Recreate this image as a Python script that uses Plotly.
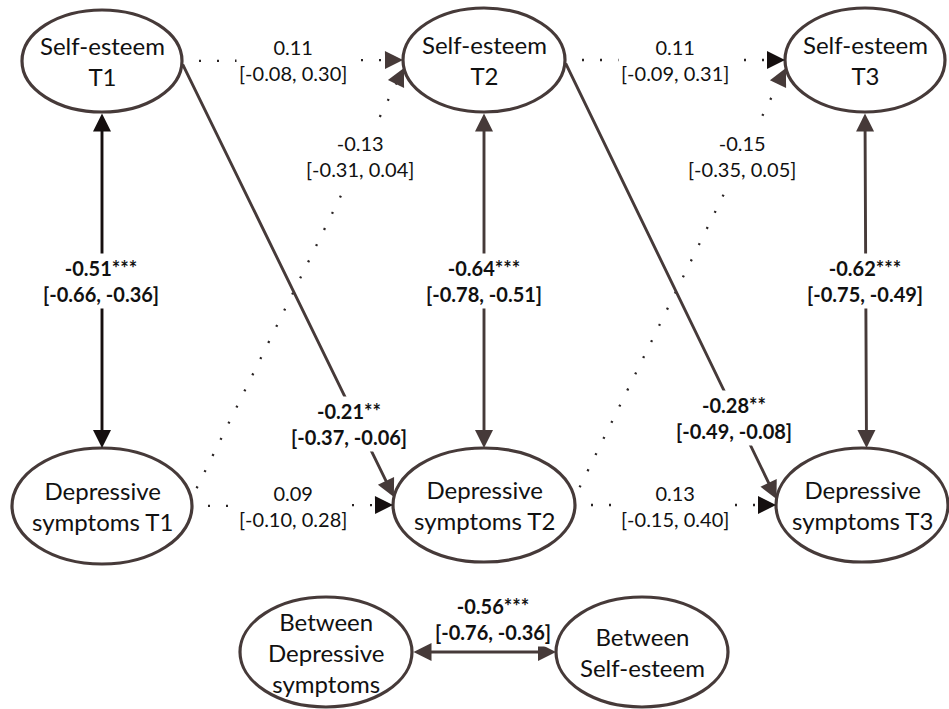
import math
import plotly.graph_objects as go

# ---- diagram content ----
node_ids = ["SE1", "SE2", "SE3", "DP1", "DP2", "DP3", "BD", "BS"]
node_labels = [
    "Self-esteem<br>T1", "Self-esteem<br>T2", "Self-esteem<br>T3",
    "Depressive<br>symptoms T1", "Depressive<br>symptoms T2", "Depressive<br>symptoms T3",
    "Between<br>Depressive<br>symptoms", "Between<br>Self-esteem",
]

# paths: standardized estimate, 95% CI, significance stars
edge_from = ["SE1", "SE2", "SE3", "SE1", "SE2", "SE1", "SE2", "DP1", "DP2", "DP1", "DP2", "BD"]
edge_to = ["DP1", "DP2", "DP3", "DP2", "DP3", "SE2", "SE3", "DP2", "DP3", "SE2", "SE3", "BS"]
estimate = [-0.51, -0.64, -0.62, -0.21, -0.28, 0.11, 0.11, 0.09, 0.13, -0.13, -0.15, -0.56]
ci_low = [-0.66, -0.78, -0.75, -0.37, -0.49, -0.08, -0.09, -0.10, -0.15, -0.31, -0.35, -0.76]
ci_high = [-0.36, -0.51, -0.49, -0.06, -0.08, 0.30, 0.31, 0.28, 0.40, 0.04, 0.05, -0.36]
stars = ["***", "***", "***", "**", "**", "", "", "", "", "", "", "***"]
edge_kind = ["both", "both", "both", "solid", "solid",
             "dot", "dot", "dot", "dot", "dot", "dot", "both"]

# ---- layout (page pixels, y pointing down) ----
NODE_GEOM = {  # cx, cy, rx, ry
    "SE1": (102, 61, 80, 51),
    "SE2": (484, 60, 81, 52),
    "SE3": (865, 60, 80, 52),
    "DP1": (102, 506, 90, 58),
    "DP2": (484, 505, 91, 57),
    "DP3": (862, 505, 86, 57),
    "BD": (326, 652, 86, 55),
    "BS": (642, 652, 86, 55),
}
# where each path leaves / enters its ellipse (degrees, counter-clockwise)
ANCHOR = [(-90, 90), (-90, 90), (-90, 87), (-2, 172), (-2, 174),
          (0, 180), (0, 180), (0, 180), (0, 180), (7, 188.8), (7, 188.8), (0, 180)]
GAP = [0, 0, 0, 0, 0, 17, 17, 16, 16, 12, 12, 0]
LABEL_POS = [(101, 281), (484, 281), (865, 281), (349, 424), (734, 418),
             (293, 60), (675, 60), (293, 506), (675, 506),
             (360, 156), (742, 156), (493, 619)]

INK = "#463a39"
DARK = "#150f0f"
DOT = "#2a2424"
TEXT = "#111111"
EDGE_COLOR = [DARK, INK, INK, INK, INK, INK, DARK, DARK, DARK, INK, INK, INK]
FONT = "Lato"
LINE_W = 2.9
HEAD = 2          # filled triangle head
HEAD_SCALE = 1.8


def on_ellipse(node, deg):
    cx, cy, rx, ry = NODE_GEOM[node]
    t = math.radians(deg)
    return cx + rx * math.cos(t), cy - ry * math.sin(t)


fig = go.Figure()

for i in range(len(edge_from)):
    x0, y0 = on_ellipse(edge_from[i], ANCHOR[i][0])
    x1, y1 = on_ellipse(edge_to[i], ANCHOR[i][1])
    length = math.hypot(x1 - x0, y1 - y0)
    ux, uy = (x1 - x0) / length, (y1 - y0) / length

    if edge_kind[i] == "dot":
        # dotted path plus a separate head
        fig.add_trace(go.Scatter(
            x=[x0 + ux * GAP[i], x1 - ux * 12],
            y=[y0 + uy * GAP[i], y1 - uy * 12],
            mode="lines",
            line=dict(color=DOT, width=2.3, dash="2px,16px"),
            hoverinfo="skip"
        ))
        fig.add_annotation(
            x=x1, y=y1, ax=x1 - ux * 10, ay=y1 - uy * 10,
            xref="x", yref="y", axref="x", ayref="y",
            text="", showarrow=True, arrowhead=HEAD,
            arrowsize=HEAD_SCALE * 2 / 1.5, arrowwidth=1.5,
            arrowcolor=EDGE_COLOR[i]
        )
    else:
        fig.add_annotation(
            x=x1, y=y1, ax=x0, ay=y0,
            xref="x", yref="y", axref="x", ayref="y",
            text="", showarrow=True,
            arrowside="end+start" if edge_kind[i] == "both" else "end",
            arrowhead=HEAD, startarrowhead=HEAD,
            arrowsize=HEAD_SCALE * 2 / LINE_W,
            startarrowsize=HEAD_SCALE * 2 / LINE_W,
            arrowwidth=LINE_W, arrowcolor=EDGE_COLOR[i]
        )

# ellipses
for nid in node_ids:
    cx, cy, rx, ry = NODE_GEOM[nid]
    fig.add_shape(
        type="circle", xref="x", yref="y",
        x0=cx - rx, x1=cx + rx, y0=cy - ry, y1=cy + ry,
        line=dict(color=INK, width=3.2), fillcolor="white", layer="above"
    )

for nid, lab in zip(node_ids, node_labels):
    cx, cy, rx, ry = NODE_GEOM[nid]
    fig.add_annotation(
        x=cx, y=cy, xref="x", yref="y", text=lab, showarrow=False,
        font=dict(family=FONT, size=24, color=TEXT)
    )

# path labels
for i in range(len(estimate)):
    txt = f"{estimate[i]:.2f}{stars[i]}<br>[{ci_low[i]:.2f}, {ci_high[i]:.2f}]"
    if stars[i]:
        txt = "<b>" + txt.replace("<br>", "</b><br><b>") + "</b>"
    lx, ly = LABEL_POS[i]
    fig.add_annotation(
        x=lx, y=ly, xref="x", yref="y", text=txt, showarrow=False,
        font=dict(family=FONT, size=20, color=TEXT),
        bgcolor="white", borderpad=2
    )

fig.update_layout(
    width=949, height=709,
    margin=dict(l=0, r=0, t=0, b=0),
    paper_bgcolor="white", plot_bgcolor="white",
    showlegend=False,
    xaxis=dict(range=[0, 949], visible=False, fixedrange=True),
    yaxis=dict(range=[709, 0], visible=False, fixedrange=True),
)

fig.write_html(
    "out.html",
    config={"displayModeBar": False, "staticPlot": True},
    post_script="document.body.style.margin='0';"
)
